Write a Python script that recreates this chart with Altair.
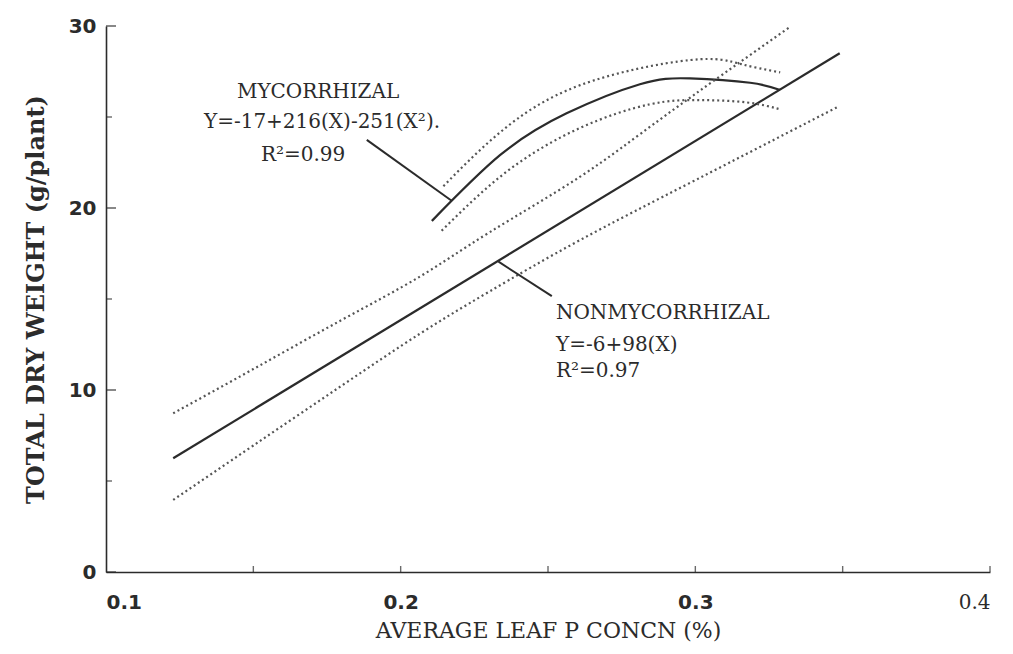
import altair as alt
import pandas as pd

# ---- data ----
nm_x = [0.1228, 0.349]
nm_y = [6.25, 28.5]
nm_up_x = [0.1228, 0.15, 0.18, 0.2066, 0.23, 0.2609, 0.29, 0.3322]
nm_up_y = [8.72, 11.15, 13.85, 16.24, 18.65, 21.72, 25.1, 29.96]
nm_lo_x = [0.1228, 0.15, 0.18, 0.2066, 0.23, 0.2609, 0.30, 0.3485]
nm_lo_y = [3.96, 6.95, 10.24, 13.1, 15.4, 18.24, 21.53, 25.57]

my_x = [0.2106, 0.2337, 0.2563, 0.2812, 0.2982, 0.3186, 0.3288]
my_y = [19.29, 22.9, 25.2, 26.8, 27.12, 26.88, 26.48]
my_up_x = [0.2145, 0.2337, 0.2609, 0.2982, 0.3152, 0.3288]
my_up_y = [21.2, 24.15, 26.75, 28.13, 27.92, 27.45]
my_lo_x = [0.2139, 0.236, 0.2609, 0.2846, 0.3016, 0.3175, 0.3288]
my_lo_y = [18.75, 22.0, 24.4, 25.7, 25.93, 25.8, 25.42]

lead_my_x = [0.1885, 0.2173]
lead_my_y = [23.74, 20.4]
lead_nm_x = [0.2332, 0.2513]
lead_nm_y = [17.05, 15.16]

my_text = ["MYCORRHIZAL", "Y=-17+216(X)-251(X²).", "R²=0.99"]
my_text_x = [0.172, 0.1733, 0.1669]
my_text_y = [26.37, 24.73, 22.91]
nm_text = ["NONMYCORRHIZAL", "Y=-6+98(X)", "R²=0.97"]
nm_text_x = [0.2527, 0.2527, 0.2527]
nm_text_y = [14.23, 12.47, 11.04]

x_ticks = [0.1, 0.2, 0.3, 0.4]
y_ticks = [0, 10, 20, 30]
x_minor = [0.15, 0.2, 0.25, 0.3, 0.35, 0.4]
y_major = [0, 10, 20, 30]
y_minor = [5, 15, 25]

# ---- tables ----
def frame(name, xs, ys):
    return pd.DataFrame({"series": name, "x": xs, "y": ys, "order": range(len(xs))})

solid = pd.concat([
    frame("nonmyc", nm_x, nm_y),
    frame("myc", my_x, my_y),
])
leaders = pd.concat([
    frame("lead_my", lead_my_x, lead_my_y),
    frame("lead_nm", lead_nm_x, lead_nm_y),
])
dotted = pd.concat([
    frame("nm_up", nm_up_x, nm_up_y),
    frame("nm_lo", nm_lo_x, nm_lo_y),
    frame("my_up", my_up_x, my_up_y),
    frame("my_lo", my_lo_x, my_lo_y),
])
txt_my = pd.DataFrame({"x": my_text_x, "y": my_text_y, "t": my_text})
txt_nm = pd.DataFrame({"x": nm_text_x, "y": nm_text_y, "t": nm_text})

xscale = alt.Scale(domain=[0.1, 0.4], nice=False, zero=False)
yscale = alt.Scale(domain=[0, 30], nice=False, zero=True)

INK = "#2b2b2b"

xaxis = alt.Axis(
    values=x_ticks, format=".1f", ticks=False, grid=False,
    labelFont=alt.condition("datum.value > 0.39", alt.value("DejaVu Serif"), alt.value("DejaVu Sans")),
    labelFontSize=20, labelColor=INK,
    labelFontWeight=alt.condition("datum.value > 0.39", alt.value("normal"), alt.value("bold")),
    labelPadding=20,
    title="AVERAGE LEAF P CONCN (%)", titleFont="DejaVu Serif", titleFontSize=22,
    titleFontWeight="normal", titleColor=INK, titlePadding=8,
    domainColor=INK, domainWidth=1.6,
)
yaxis = alt.Axis(
    values=y_ticks, format="d", ticks=False, grid=False,
    labelFont="DejaVu Sans", labelFontSize=20, labelFontWeight="bold", labelColor=INK,
    labelPadding=10,
    title="TOTAL DRY WEIGHT (g/plant)", titleFont="DejaVu Serif", titleFontSize=24,
    titleFontWeight="bold", titleColor=INK, titlePadding=20,
    domainColor=INK, domainWidth=1.6,
)

base_x = alt.X("x:Q", scale=xscale, axis=xaxis)
base_y = alt.Y("y:Q", scale=yscale, axis=yaxis)

solid_layer = alt.Chart(solid).mark_line(
    color=INK, strokeWidth=2.2, interpolate="natural"
).encode(x=base_x, y=base_y, detail="series:N", order="order:Q")

lead_layer = alt.Chart(leaders).mark_line(
    color=INK, strokeWidth=2
).encode(x="x:Q", y="y:Q", detail="series:N", order="order:Q")

dot_layer = alt.Chart(dotted).mark_line(
    color="#555555", strokeWidth=2.2, strokeDash=[2, 3], interpolate="natural"
).encode(x="x:Q", y="y:Q", detail="series:N", order="order:Q")

text_my_layer = alt.Chart(txt_my).mark_text(
    font="DejaVu Serif", fontSize=20, align="center", baseline="middle", color=INK
).encode(x="x:Q", y="y:Q", text="t:N")

text_nm_layer = alt.Chart(txt_nm).mark_text(
    font="DejaVu Serif", fontSize=20, align="left", baseline="middle", color=INK
).encode(x="x:Q", y="y:Q", text="t:N")

ymaj = alt.Chart(pd.DataFrame({"v": y_major})).mark_tick(
    orient="horizontal", size=10, thickness=1.6, xOffset=5, color=INK
).encode(y="v:Q", x=alt.datum(0.1))
ymin = alt.Chart(pd.DataFrame({"v": y_minor})).mark_tick(
    orient="horizontal", size=6, thickness=1.4, xOffset=3, color=INK
).encode(y="v:Q", x=alt.datum(0.1))
xmin = alt.Chart(pd.DataFrame({"v": x_minor})).mark_tick(
    orient="vertical", size=6, thickness=1.4, yOffset=-3, color=INK
).encode(x="v:Q", y=alt.datum(0))

chart = alt.layer(
    solid_layer, dot_layer, lead_layer, text_my_layer, text_nm_layer, ymaj, ymin, xmin
).properties(
    width=884, height=546,
    padding={"left": 98, "top": 18, "right": 15, "bottom": 74},
    autosize=alt.AutoSizeParams(type="none"),
    background="white",
).configure_view(stroke=None)

chart.save("out.html", embed_options={"renderer": "svg", "actions": False})
